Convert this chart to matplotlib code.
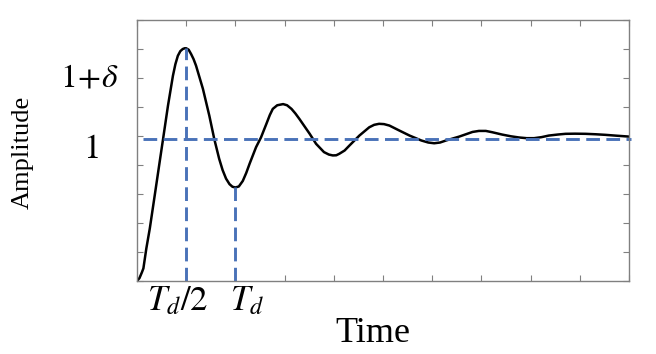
import matplotlib
matplotlib.use('Agg')
import matplotlib.pyplot as plt
import numpy as np

# step response (x in tick units, y in tick units of 0.2)
t = [0, 0.05, 0.1, 0.13, 0.19, 0.26, 0.36, 0.46, 0.53, 0.63, 0.73, 0.78, 0.83,
     0.88, 0.93, 0.97, 1.0, 1.05, 1.1, 1.15, 1.2, 1.34, 1.47, 1.57, 1.67, 1.74,
     1.81, 1.88, 1.94, 2.0, 2.07, 2.15, 2.22, 2.29, 2.42, 2.52, 2.63, 2.7, 2.76,
     2.85, 2.97, 3.05, 3.14, 3.22, 3.3, 3.51, 3.64, 3.8, 3.9, 3.98, 4.05, 4.11,
     4.22, 4.32, 4.52, 4.72, 4.82, 4.92, 5.02, 5.13, 5.33, 5.54, 5.78, 5.92, 6.04,
     6.16, 6.28, 6.55, 6.82, 6.95, 7.09, 7.22, 7.42, 7.6, 7.76, 7.92, 8.07, 8.22,
     8.37, 8.55, 8.71, 8.9, 9.12, 9.32, 9.52, 9.75, 10.0]
amp = [0, 0.02, 0.06, 0.087, 0.225, 0.362, 0.59, 0.82, 0.98, 1.21, 1.415, 1.495,
       1.553, 1.585, 1.6, 1.605, 1.605, 1.595, 1.565, 1.53, 1.485, 1.325, 1.14,
       0.98, 0.843, 0.765, 0.706, 0.668, 0.65, 0.645, 0.652, 0.69, 0.745, 0.81,
       0.923, 0.99, 1.084, 1.145, 1.187, 1.212, 1.22, 1.212, 1.187, 1.155, 1.118,
       1.015, 0.946, 0.889, 0.872, 0.866, 0.867, 0.877, 0.9, 0.935, 1.003, 1.06,
       1.077, 1.084, 1.082, 1.072, 1.038, 1.003, 0.969, 0.955, 0.95, 0.955, 0.969,
       0.996, 1.028, 1.035, 1.035, 1.026, 1.01, 0.998, 0.99, 0.985, 0.985, 0.992,
       1.003, 1.01, 1.015, 1.016, 1.015, 1.012, 1.008, 1.002, 0.996]

level = 0.98          # steady-state dashed line
t_half, peak = 1.0, 1.605
t_d, trough = 2.0, 0.645

plt.rcParams['mathtext.fontset'] = 'stix'
plt.rcParams['font.family'] = ['Liberation Serif', 'DejaVu Serif']

fig = plt.figure(figsize=(6.56, 3.54), dpi=100)
ax = fig.add_axes([137/656, 1-281/354, 492/656, 261/354])

blue = '#4a72b8'
dash = (0, (4.7, 2.2))
ax.plot(t, amp, color='black', lw=1.8, solid_joinstyle='round',
        solid_capstyle='round')
ax.plot([0.12, 10.05], [level, level], color=blue, lw=2.1, ls=dash, clip_on=False)
ax.plot([t_half, t_half], [0, peak], color=blue, lw=2.1, ls=dash)
ax.plot([t_d, t_d], [0, trough], color=blue, lw=2.1, ls=dash)

ax.set_xlim(0, 10)
ax.set_ylim(0, 1.8)
ax.set_xticks(np.arange(0, 11, 1))
ax.set_yticks(np.arange(0, 1.81, 0.2))
ax.set_xticklabels([])
ax.set_yticklabels([])
ax.tick_params(direction='in', top=True, right=True, length=4, width=0.8,
               color='#808080')
for s in ax.spines.values():
    s.set_color('#808080')
    s.set_linewidth(1.0)

def fx(px):
    return px / 656

def fy(py):
    return 1 - py / 354

fig.text(fx(89), fy(78), r'$1\!+\!\delta$', fontsize=24, ha='center', va='center')
fig.text(fx(91), fy(150), r'$1$', fontsize=25, ha='center', va='center')
fig.text(fx(178), fy(302), r'$T_d/2$', fontsize=25, ha='center', va='center')
fig.text(fx(247), fy(302), r'$T_d$', fontsize=25, ha='center', va='center')
fig.text(fx(373), fy(333), 'Time', fontsize=26, ha='center', va='center')
fig.text(fx(23), fy(152), 'Amplitude', fontsize=19, ha='center', va='center',
         rotation=90)

plt.savefig('out.png')
